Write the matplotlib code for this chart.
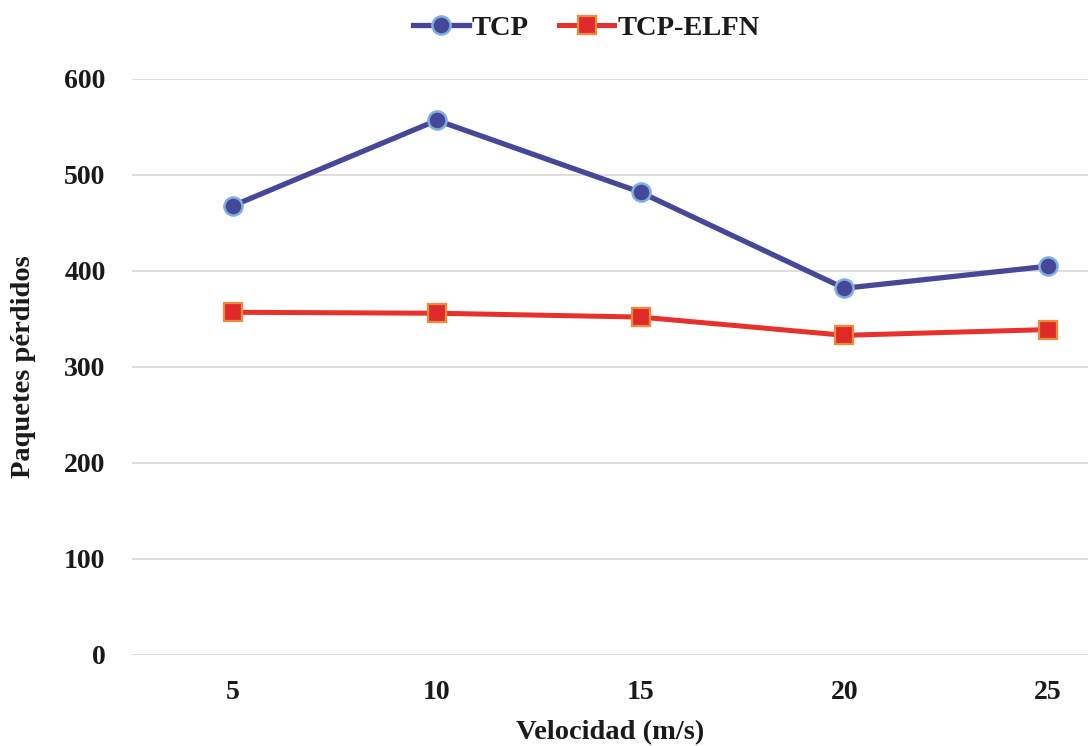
import matplotlib

matplotlib.use("Agg")
import matplotlib.pyplot as plt

velocidad = [5, 10, 15, 20, 25]
tcp = [468, 557, 482, 382, 405]
tcp_elfn = [357, 356, 352, 333, 339]
y_ticks = [0, 100, 200, 300, 400, 500, 600]

plt.rcParams["font.family"] = ["Liberation Serif", "DejaVu Serif"]
plt.rcParams["font.weight"] = "bold"

fig = plt.figure(figsize=(10.88, 7.46), dpi=100)
fig.patch.set_facecolor("white")
ax = fig.add_axes([132 / 1088, 91 / 746, 1 - 132 / 1088, 576 / 746])

ax.plot(velocidad, tcp, color="#47479a", lw=3.8, marker="o", ms=13,
        mfc="#47479a", mec="#7fb0e0", mew=1.8, label="TCP", clip_on=False, zorder=3)
ax.plot(velocidad, tcp_elfn, color="#e8302c", lw=3.6, marker="s", ms=12.5,
        mfc="#e02a2a", mec="#f08a3a", mew=1.6, label="TCP-ELFN", clip_on=False, zorder=3)

ax.set_xlim(2.52, 25.98)
ax.set_ylim(0, 600)
ax.set_xticks(velocidad)
ax.set_yticks(y_ticks)
ax.tick_params(axis="both", length=0, labelsize=20, colors="#1a1a1a")
ax.tick_params(axis="y", pad=19)
ax.tick_params(axis="x", pad=18)
ax.grid(axis="y", color="#e2ddd8", lw=1.4)
ax.set_axisbelow(True)
for s in ax.spines.values():
    s.set_visible(False)

ax.set_xlabel("Velocidad (m/s)", fontsize=20.5, fontweight="bold", color="#1a1a1a", labelpad=11)
ax.set_ylabel("Paquetes pérdidos", fontsize=20.5, fontweight="bold", color="#1a1a1a", labelpad=20)

leg = fig.legend(loc="upper center", bbox_to_anchor=(0.539, 1.014), ncol=2, frameon=False,
                 fontsize=20.5, handlelength=1.95, columnspacing=1.05, handletextpad=0.1)
for t in leg.get_texts():
    t.set_color("#1a1a1a")

fig.savefig("out.png", dpi=100)
